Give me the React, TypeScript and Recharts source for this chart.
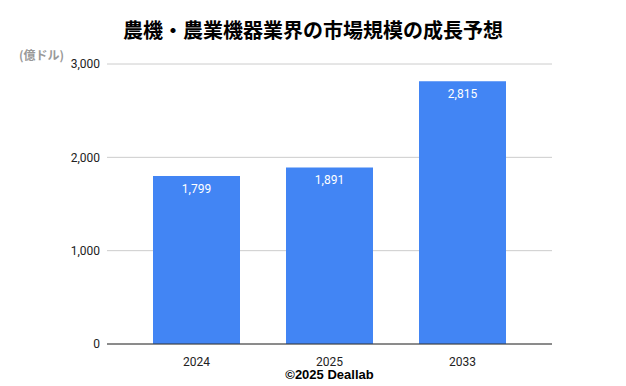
import { BarChart, Bar, XAxis, YAxis, CartesianGrid, LabelList } from 'recharts';

const years = ['2024', '2025', '2033'];
const marketSize = [1799, 1891, 2815];
const yTicks = [0, 1000, 2000, 3000];

const data = years.map((year, i) => ({ year, value: marketSize[i] }));

const fmt = (v: number) => v.toLocaleString('en-US');

const tickStyle = { fontFamily: 'Roboto, Arial, sans-serif', fontSize: 12, fill: '#222' };

export default function App() {
    return (
        <div style={{ position: 'absolute', left: 0, top: 0, width: 626, height: 386, background: '#fff' }}>
            <BarChart
                width={626}
                height={386}
                data={data}
                margin={{ top: 64, right: 74, left: 0, bottom: 22 }}
            >
                <text
                    x={313}
                    y={38}
                    textAnchor="middle"
                    style={{ fontFamily: '"Noto Sans CJK JP", sans-serif', fontSize: 20, fontWeight: 700, fill: '#000' }}
                >
                    農機・農業機器業界の市場規模の成長予想
                </text>
                <text
                    x={19}
                    y={60}
                    style={{ fontFamily: '"Noto Sans CJK JP", sans-serif', fontSize: 12, fontWeight: 700, fill: '#999' }}
                >
                    (億ドル)
                </text>
                <CartesianGrid vertical={false} stroke="#ccc" />
                <XAxis
                    dataKey="year"
                    tick={tickStyle}
                    tickLine={false}
                    axisLine={{ stroke: '#333' }}
                    padding={{ left: 23, right: 23 }}
                    height={20}
                    tickMargin={7}
                />
                <YAxis
                    domain={[0, 3000]}
                    ticks={yTicks}
                    tickFormatter={fmt}
                    tick={tickStyle}
                    tickLine={false}
                    axisLine={false}
                    tickSize={0}
                    tickMargin={7}
                    width={107}
                />
                <Bar dataKey="value" fill="#4285f4" barSize={87} isAnimationActive={false}>
                    <LabelList
                        dataKey="value"
                        position="insideTop"
                        offset={8}
                        formatter={(v: number) => fmt(v)}
                        style={{ fontFamily: 'Roboto, Arial, sans-serif', fontSize: 12, fill: '#fff' }}
                    />
                </Bar>
            </BarChart>
            <div
                style={{
                    position: 'absolute',
                    left: 107,
                    width: 445,
                    top: 368,
                    textAlign: 'center',
                    fontFamily: 'Arial, "Liberation Sans", sans-serif',
                    fontSize: 13,
                    fontWeight: 700,
                    color: '#000',
                    lineHeight: '14px',
                }}
            >
                ©2025 Deallab
            </div>
        </div>
    );
}
